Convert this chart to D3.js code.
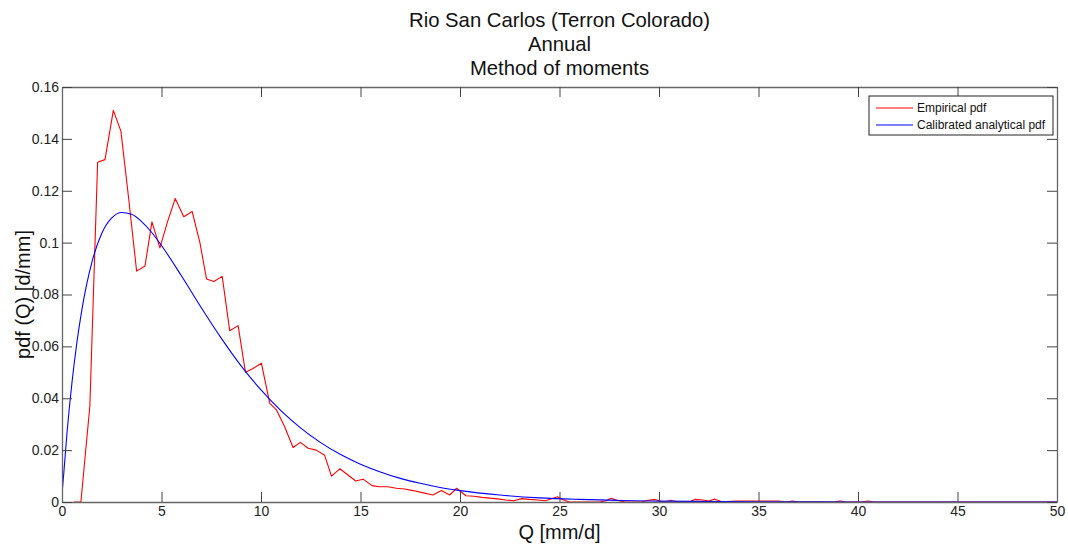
<!DOCTYPE html>
<html>
<head>
<meta charset="utf-8">
<script src="https://cdn.jsdelivr.net/npm/d3@7"></script>
<style>
  html, body { margin: 0; padding: 0; background: #fff; }
  svg { display: block; font-family: "Liberation Sans", Arial, Helvetica, sans-serif; }
</style>
</head>
<body>
<svg id="chart" width="1068" height="544"></svg>
<script>
// Title lines
const titleLines = ["Rio San Carlos (Terron Colorado)", "Annual", "Method of moments"];

// Empirical pdf: discharge Q [mm/d] and density
const qEmp = [0.6, 0.95, 1.4, 1.79, 2.16, 2.58, 2.96, 3.35, 3.75, 4.17, 4.52, 4.92, 5.3, 5.69, 6.12, 6.54, 6.93, 7.26, 7.63, 8.05,
  8.43, 8.85, 9.22, 9.6, 10.02, 10.44, 10.78, 11.19, 11.61, 11.98, 12.37, 12.78, 13.2, 13.54, 13.96, 14.37, 14.76, 15.13, 15.58, 15.96,
  16.38, 16.8, 17.22, 17.64, 18.05, 18.64, 19.06, 19.48, 19.83, 20.3, 20.7, 21.1, 21.5, 21.9, 22.3, 22.7, 23.1, 23.5, 23.9, 24.3,
  24.9, 25.2, 25.5, 27.0, 27.3, 27.6, 27.9, 28.3, 29.1, 29.4, 29.8, 30.2, 30.6, 31.0, 31.5, 31.8, 32.2, 32.5, 32.8, 33.2,
  33.6, 34.0, 36.0, 36.4, 36.7, 37.0, 38.8, 39.1, 39.4, 40.2, 40.5, 40.8, 50];
const pdfEmp = [0, 0, 0.037, 0.131, 0.132, 0.151, 0.143, 0.117, 0.089, 0.091, 0.108, 0.098, 0.108, 0.117, 0.110, 0.112, 0.100, 0.086, 0.085, 0.087,
  0.066, 0.068, 0.050, 0.0515, 0.0535, 0.038, 0.0355, 0.029, 0.021, 0.023, 0.0207, 0.020, 0.018, 0.010, 0.0128, 0.0104, 0.0081, 0.0088, 0.0063, 0.0059,
  0.0059, 0.0053, 0.0050, 0.0044, 0.0037, 0.0027, 0.0044, 0.0027, 0.0053, 0.0024, 0.0022, 0.0018, 0.0015, 0.0012, 0.0008, 0.0005, 0.0013, 0.0010, 0.0008, 0.0005,
  0.0020, 0.0008, 0, 0, 0.0004, 0.0014, 0.0006, 0, 0, 0.0006, 0.0010, 0, 0.0006, 0, 0, 0.0010, 0.0008, 0.0004, 0.0011, 0,
  0.0003, 0.0004, 0.0004, 0, 0.0004, 0, 0, 0.0004, 0, 0, 0.0004, 0, 0];

// Calibrated analytical pdf
const qFit = [0, 0.1, 0.25, 0.5, 0.75, 1, 1.5, 2, 2.5, 3, 3.5, 4, 4.5, 5, 6, 7, 8, 9, 10, 11,
  12, 13, 14, 15, 16, 17, 18, 19, 20, 22, 24, 26, 28, 30, 35, 40, 50];
const pdfFit = [0.003, 0.0121, 0.0265, 0.0460, 0.0616, 0.0742, 0.0924, 0.1036, 0.1095, 0.1116, 0.1109, 0.1081, 0.1040, 0.0989, 0.0872, 0.0749, 0.0632, 0.0525, 0.0432, 0.0352,
  0.0285, 0.0229, 0.0183, 0.0146, 0.0116, 0.0091, 0.0072, 0.0056, 0.0044, 0.0027, 0.0016, 0.0010, 0.0006, 0.00035, 0.0001, 0.00002, 0];

// Axis ticks and labels
const xTicks = [0, 5, 10, 15, 20, 25, 30, 35, 40, 45, 50];
const yTicks = [0, 0.02, 0.04, 0.06, 0.08, 0.1, 0.12, 0.14, 0.16];
const yTickLabels = ["0", "0.02", "0.04", "0.06", "0.08", "0.1", "0.12", "0.14", "0.16"];
const xLabel = "Q [mm/d]";
const yLabel = "pdf (Q) [d/mm]";
const legendLabels = ["Empirical pdf", "Calibrated analytical pdf"];
const seriesColors = ["#ff0000", "#0000ff"];

const svg = d3.select("#chart");
const W = 1068, H = 544;
const m = { left: 62, top: 87, right: 11, bottom: 42 };
const iw = W - m.left - m.right, ih = H - m.top - m.bottom;

const x = d3.scaleLinear().domain([0, 50]).range([m.left, m.left + iw]);
const y = d3.scaleLinear().domain([0, 0.16]).range([m.top + ih, m.top]);

// Title
svg.append("g").selectAll("text").data(titleLines).join("text")
  .attr("x", m.left + iw / 2).attr("y", (d, i) => 27 + i * 24)
  .attr("text-anchor", "middle").attr("font-size", 20.3).attr("fill", "#111")
  .text(d => d);

// Curves clipped to the plot area
svg.append("defs").append("clipPath").attr("id", "plotclip")
  .append("rect").attr("x", m.left).attr("y", m.top).attr("width", iw).attr("height", ih + 1);

const plot = svg.append("g").attr("clip-path", "url(#plotclip)");
const lineGen = d3.line().x(d => x(d[0])).y(d => y(d[1]));

plot.append("path")
  .datum(d3.zip(qEmp, pdfEmp))
  .attr("fill", "none").attr("stroke", seriesColors[0]).attr("stroke-width", 1.1)
  .attr("stroke-linejoin", "round")
  .attr("d", lineGen);

plot.append("path")
  .datum(d3.zip(qFit, pdfFit))
  .attr("fill", "none").attr("stroke", seriesColors[1]).attr("stroke-width", 1.1)
  .attr("d", lineGen.curve(d3.curveMonotoneX));

// Axes with inward ticks on all four sides
const tickLen = 10;
const axisColor = "#666";
const fmtY = d => yTickLabels[yTicks.indexOf(d)];

const gB = svg.append("g").attr("transform", `translate(0,${m.top + ih})`)
  .call(d3.axisBottom(x).tickValues(xTicks).tickSizeInner(-tickLen).tickSizeOuter(0).tickPadding(4).tickFormat(d3.format("d")));
const gT = svg.append("g").attr("transform", `translate(0,${m.top})`)
  .call(d3.axisTop(x).tickValues(xTicks).tickSizeInner(-tickLen).tickSizeOuter(0).tickFormat(""));
const gL = svg.append("g").attr("transform", `translate(${m.left},0)`)
  .call(d3.axisLeft(y).tickValues(yTicks).tickSizeInner(-tickLen).tickSizeOuter(0).tickPadding(3).tickFormat(fmtY));
const gR = svg.append("g").attr("transform", `translate(${m.left + iw},0)`)
  .call(d3.axisRight(y).tickValues(yTicks).tickSizeInner(-tickLen).tickSizeOuter(0).tickFormat(""));

[gB, gT, gL, gR].forEach(g => {
  g.select(".domain").attr("stroke", axisColor).attr("stroke-width", 1.3);
  g.selectAll(".tick line").attr("stroke", "#444");
  g.selectAll(".tick text").attr("font-size", 14).attr("fill", "#222")
    .attr("font-family", "'Liberation Sans Narrow', 'Arial Narrow', 'Liberation Sans', sans-serif");
});

// Axis titles
svg.append("text").attr("x", m.left + iw / 2).attr("y", 539)
  .attr("text-anchor", "middle").attr("font-size", 20).attr("fill", "#111").text(xLabel);
svg.append("text").attr("transform", `translate(30,${m.top + ih / 2}) rotate(-90)`)
  .attr("text-anchor", "middle").attr("font-size", 20).attr("fill", "#111").text(yLabel);

// Legend
const lg = svg.append("g").attr("transform", "translate(869,96)");
lg.append("rect").attr("width", 184).attr("height", 39)
  .attr("fill", "#fff").attr("stroke", "#222").attr("stroke-width", 1);
legendLabels.forEach((lab, i) => {
  const yy = 12 + i * 17;
  lg.append("line").attr("x1", 7).attr("x2", 44).attr("y1", yy).attr("y2", yy)
    .attr("stroke", seriesColors[i]).attr("stroke-width", 1.1);
  lg.append("text").attr("x", 48).attr("y", yy + 4).attr("font-size", 12).attr("fill", "#111").text(lab);
});
</script>
</body>
</html>
